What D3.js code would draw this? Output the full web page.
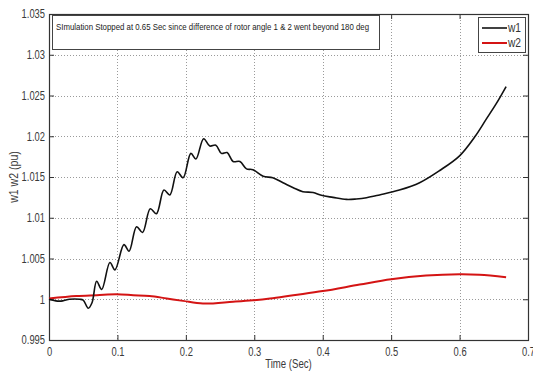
<!DOCTYPE html>
<html><head><meta charset="utf-8">
<script src="https://cdn.jsdelivr.net/npm/d3@7"></script>
<style>
body{margin:0;background:#fff;}
svg{display:block;}
text{font-family:"Liberation Sans",Arial,sans-serif;}
</style></head>
<body>
<svg id="c" width="533" height="373"></svg>
<script>
const xTicks = [0,0.1,0.2,0.3,0.4,0.5,0.6,0.7];
const yTicks = [0.995,1,1.005,1.01,1.015,1.02,1.025,1.03,1.035];
const seriesNames = ["w1","w2"];
const w1T = [0,0.01,0.02,0.03,0.045,0.05,0.0574,0.063,0.0696,0.077,0.089,0.0964,0.1095,0.117,0.128,0.1367,0.148,0.157,0.168,0.1766,0.1873,0.196,0.2073,0.2146,0.226,0.235,0.2438,0.252,0.2603,0.269,0.279,0.2886,0.298,0.313,0.327,0.342,0.357,0.371,0.386,0.398,0.415,0.4346,0.449,0.464,0.483,0.512,0.5416,0.571,0.6,0.622,0.639,0.6536,0.668];
const w1V = [1.0000,0.9998,0.9998,1.0000,1.0000,0.9999,0.9989,0.9996,1.0022,1.0012,1.0045,1.0036,1.0067,1.0059,1.0089,1.0082,1.0111,1.0105,1.0134,1.0128,1.01565,1.0149,1.0179,1.0172,1.0197,1.0188,1.0189,1.0179,1.0180,1.0169,1.0169,1.0160,1.0159,1.0151,1.0149,1.0143,1.01368,1.0132,1.0131,1.01275,1.0125,1.01225,1.0123,1.01245,1.0128,1.0134,1.0143,1.0158,1.0176,1.0199,1.0221,1.0240,1.0261];
const w2T = [0,0.04,0.07,0.0988,0.123,0.147,0.172,0.196,0.225,0.269,0.298,0.323,0.357,0.4,0.454,0.5,0.551,0.6,0.629,0.668];
const w2V = [1.0001,1.0004,1.0005,1.0006,1.0005,1.0004,1.0001,0.9998,0.99947,0.9997,0.99988,1.0001,1.0005,1.0010,1.0018,1.00245,1.0029,1.00306,1.0030,1.0027];
const annotation = "SImulation Stopped at 0.65 Sec since difference of rotor angle 1 & 2 went beyond 180 deg";
const xLabel = "Time (Sec)";
const yLabel = "w1 w2 (pu)";

const L=49,R=528,T=14,B=340;
const svg=d3.select("#c");
const x=d3.scaleLinear().domain([0,0.7]).range([L,R]);
const y=d3.scaleLinear().domain([0.995,1.035]).range([B,T]);

function condense(sel,f){sel.each(function(){const n=this;const w=n.getComputedTextLength();if(w>0){d3.select(n).attr("textLength",w*f).attr("lengthAdjust","spacingAndGlyphs");}});}

// grid
const g=svg.append("g");
g.selectAll(".gx").data(xTicks.slice(1,-1)).enter().append("line")
 .attr("x1",d=>Math.round(x(d))+0.5).attr("x2",d=>Math.round(x(d))+0.5).attr("y1",T).attr("y2",B)
 .attr("stroke","#9a9a9a").attr("stroke-width",1).attr("stroke-dasharray","1,2");
g.selectAll(".gy").data(yTicks.slice(1,-1)).enter().append("line")
 .attr("y1",d=>Math.round(y(d))+0.5).attr("y2",d=>Math.round(y(d))+0.5).attr("x1",L).attr("x2",R)
 .attr("stroke","#9a9a9a").attr("stroke-width",1).attr("stroke-dasharray","1,2");

const fmtX=d=>String(+d.toFixed(1));
const fmtY=d=>String(+d.toFixed(3));
function style(ax){ax.select(".domain").remove();ax.selectAll("line").attr("stroke","#333");ax.selectAll("text").attr("fill","#3a3a3a").style("font-size","12px");}
const axB=svg.append("g").attr("transform",`translate(0,${B})`).call(d3.axisBottom(x).tickValues(xTicks).tickFormat(fmtX).tickSizeInner(-5).tickSizeOuter(0).tickPadding(7));
const axT=svg.append("g").attr("transform",`translate(0,${T})`).call(d3.axisTop(x).tickValues(xTicks).tickFormat("").tickSizeInner(-5).tickSizeOuter(0));
const axL=svg.append("g").attr("transform",`translate(${L},0)`).call(d3.axisLeft(y).tickValues(yTicks).tickFormat(fmtY).tickSizeInner(-5).tickSizeOuter(0).tickPadding(4));
const axR=svg.append("g").attr("transform",`translate(${R},0)`).call(d3.axisRight(y).tickValues(yTicks).tickFormat("").tickSizeInner(-5).tickSizeOuter(0));
[axB,axT,axL,axR].forEach(style);
axL.selectAll("text").attr("x",-4);
condense(axB.selectAll("text"),0.78);
condense(axL.selectAll("text"),0.78);

svg.append("rect").attr("x",L+0.5).attr("y",T+0.5).attr("width",R-L).attr("height",B-T)
 .attr("fill","none").attr("stroke","#333").attr("stroke-width",1.2);

const line=d3.line().x(d=>x(d[0])).y(d=>y(d[1])).curve(d3.curveCatmullRom.alpha(0.5));
svg.append("path").datum(w2T.map((t,i)=>[t,w2V[i]])).attr("d",line)
 .attr("fill","none").attr("stroke","#d41414").attr("stroke-width",2);
svg.append("path").datum(w1T.map((t,i)=>[t,w1V[i]])).attr("d",line)
 .attr("fill","none").attr("stroke","#111").attr("stroke-width",1.6);

// annotation box
svg.append("rect").attr("x",52.5).attr("y",15.5).attr("width",327).attr("height",34)
 .attr("fill","#fff").attr("stroke","#444").attr("stroke-width",1);
svg.append("text").attr("x",56).attr("y",29.5).text(annotation)
 .attr("fill","#222").style("font-size","9.5px").attr("textLength",313).attr("lengthAdjust","spacingAndGlyphs");

// legend
svg.append("rect").attr("x",478.5).attr("y",17.5).attr("width",47).attr("height",35)
 .attr("fill","#fff").attr("stroke","#444").attr("stroke-width",1);
const colors=["#111","#d41414"];
seriesNames.forEach((n,i)=>{
  const yy=28+i*15;
  svg.append("line").attr("x1",482).attr("x2",507).attr("y1",yy).attr("y2",yy).attr("stroke",colors[i]).attr("stroke-width",i?2:1.6);
  const t=svg.append("text").attr("x",508).attr("y",yy+4).text(n).attr("fill","#333").style("font-size","12px");
  condense(t,0.85);
});

const xl=svg.append("text").attr("x",(L+R)/2).attr("y",368).attr("text-anchor","middle").text(xLabel).attr("fill","#3a3a3a").style("font-size","12px");
condense(xl,0.8);
const yl=svg.append("text").attr("transform",`translate(18,${(T+B)/2}) rotate(-90)`).attr("text-anchor","middle").text(yLabel).attr("fill","#3a3a3a").style("font-size","12px");
condense(yl,0.88);
</script>
</body></html>
